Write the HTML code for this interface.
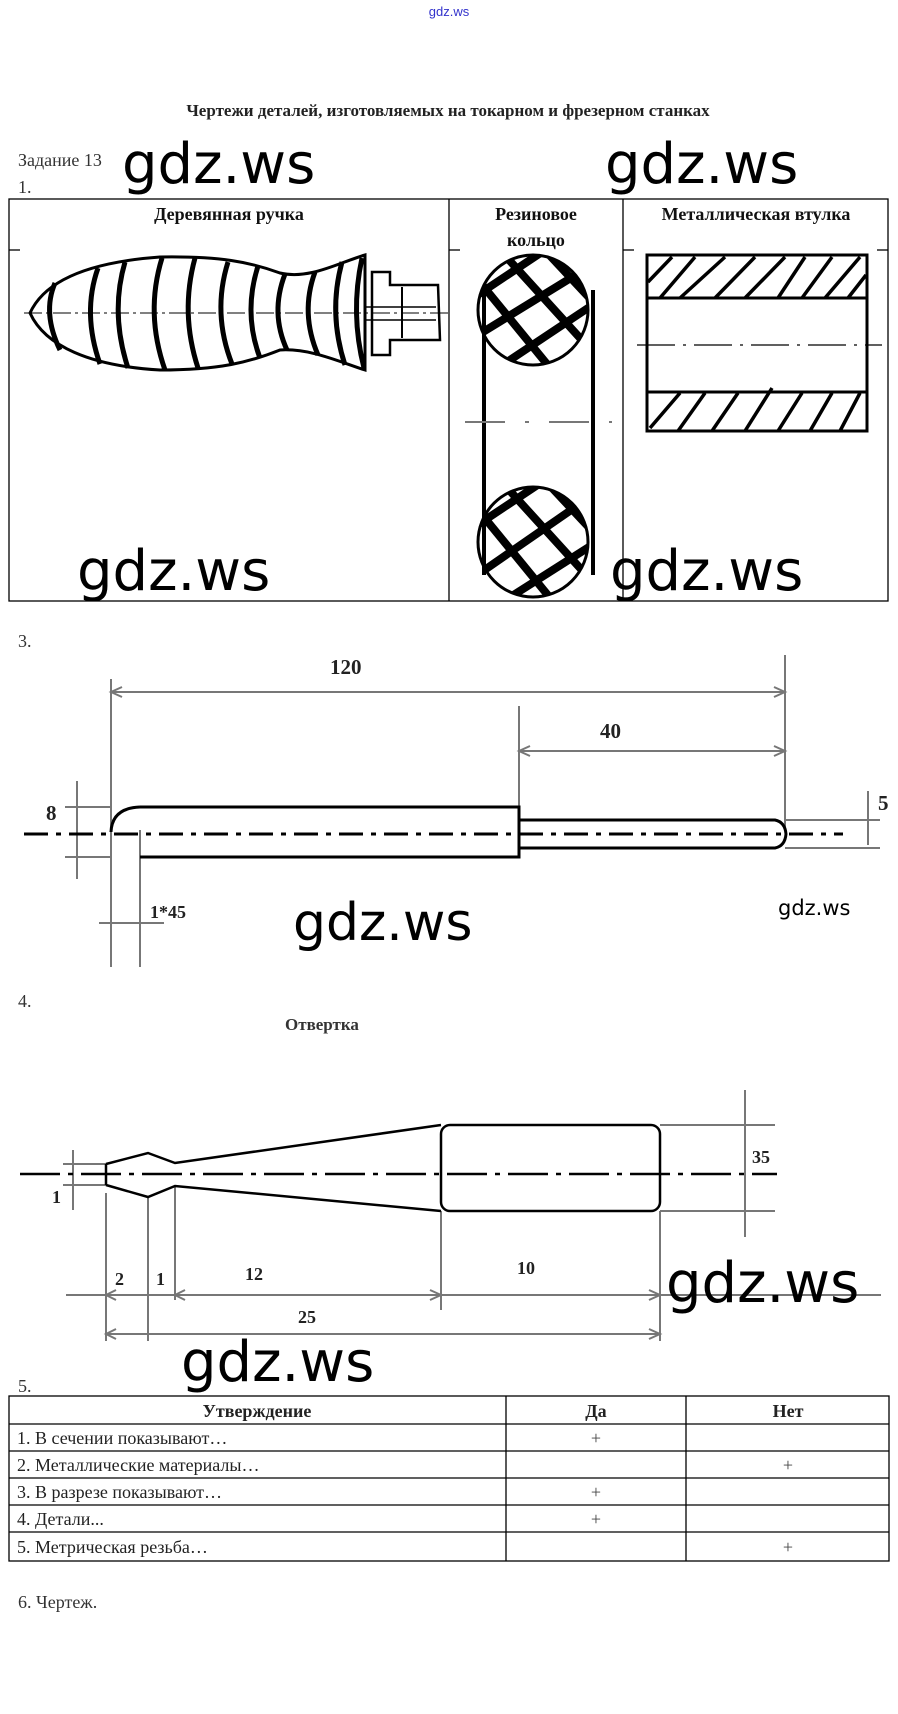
<!DOCTYPE html>
<html><head><meta charset="utf-8"><style>
body{margin:0;background:#fff;}
svg{display:block}
.s{font-family:"Liberation Serif",serif;}
.w{font-family:"DejaVu Sans","Liberation Sans",sans-serif;fill:#000;}
</style></head><body>
<svg width="898" height="1714" viewBox="0 0 898 1714" xmlns="http://www.w3.org/2000/svg">
<g class="s">
<text x="449" y="16" font-size="13" fill="#3333cc" text-anchor="middle" font-family="Liberation Sans,sans-serif">gdz.ws</text>
<text x="448" y="116" font-size="17" font-weight="bold" text-anchor="middle" fill="#222">Чертежи деталей, изготовляемых на токарном и фрезерном станках</text>
<text x="18" y="166" font-size="18" fill="#333">Задание 13</text>
<text x="18" y="193" font-size="18" fill="#333">1.</text>
</g>
<!-- table 1 -->
<g stroke="#000" stroke-width="1.3" fill="none">
<rect x="9" y="199" width="879" height="402"/>
<line x1="449" y1="199" x2="449" y2="601"/>
<line x1="623" y1="199" x2="623" y2="601"/>
<line x1="9" y1="250" x2="20" y2="250"/><line x1="449" y1="250" x2="460" y2="250"/><line x1="623" y1="250" x2="634" y2="250"/><line x1="877" y1="250" x2="888" y2="250"/>
</g>
<g class="s" font-size="18" font-weight="bold" text-anchor="middle" fill="#111">
<text x="229" y="220">Деревянная ручка</text>
<text x="536" y="220">Резиновое</text>
<text x="536" y="246">кольцо</text>
<text x="756" y="220">Металлическая втулка</text>
</g>
<!-- handle -->
<g stroke="#000" fill="none">
<path d="M30,313 C45,280 90,262 160,257 C220,256 250,262 280,273 C310,280 340,262 365,255 L365,370 C340,362 310,348 280,350 C250,362 220,370 160,370 C90,366 45,346 30,313 Z" stroke-width="3"/>
<line x1="24" y1="313" x2="452" y2="313" stroke-width="1" stroke-dasharray="18,4,3,4"/>
<g stroke-width="5">
<path d="M55,283 Q42,313 60,350"/>
<path d="M98,268 Q82,313 100,364"/>
<path d="M125,262 Q110,313 128,368"/>
<path d="M162,258 Q145,313 165,370"/>
<path d="M195,258 Q180,313 198,368"/>
<path d="M228,262 Q212,313 232,364"/>
<path d="M258,266 Q243,313 260,358"/>
<path d="M285,274 Q270,313 287,350"/>
<path d="M315,272 Q300,313 318,355"/>
<path d="M342,262 Q328,313 345,365"/>
<path d="M362,258 Q350,313 364,368"/>
</g>
<path d="M372,272 L390,272 L390,285 L438,285 L440,340 L390,340 L390,355 L372,355 Z" stroke-width="2.5"/>
<line x1="365" y1="307" x2="436" y2="307" stroke-width="1.5"/><line x1="365" y1="320" x2="436" y2="320" stroke-width="1.5"/>
<line x1="402" y1="287" x2="402" y2="338" stroke-width="2"/>
</g>
<!-- ring -->
<g stroke="#000" fill="none">
<line x1="484" y1="290" x2="484" y2="575" stroke-width="4"/>
<line x1="593" y1="290" x2="593" y2="575" stroke-width="4"/>
<line x1="465" y1="422" x2="612" y2="422" stroke="#777" stroke-width="2" stroke-dasharray="40,20,4,20"/>
<clipPath id="c1"><circle cx="533" cy="310" r="55"/></clipPath>
<clipPath id="c2"><circle cx="533" cy="542" r="55"/></clipPath>
<circle cx="533" cy="310" r="55" stroke-width="3"/>
<circle cx="533" cy="542" r="55" stroke-width="3"/>
<g clip-path="url(#c1)" stroke-width="8">
<line x1="470" y1="300" x2="560" y2="240"/><line x1="470" y1="340" x2="600" y2="260"/><line x1="480" y1="380" x2="600" y2="300"/>
<line x1="470" y1="270" x2="560" y2="380"/><line x1="500" y1="250" x2="600" y2="360"/><line x1="540" y1="245" x2="610" y2="320"/>
</g>
<g clip-path="url(#c2)" stroke-width="8">
<line x1="470" y1="530" x2="560" y2="470"/><line x1="470" y1="580" x2="600" y2="490"/><line x1="490" y1="610" x2="600" y2="540"/>
<line x1="470" y1="500" x2="560" y2="610"/><line x1="500" y1="480" x2="600" y2="590"/><line x1="540" y1="475" x2="610" y2="550"/>
</g>
</g>
<!-- bushing -->
<g stroke="#000" fill="none" stroke-width="3">
<rect x="647" y="255" width="220" height="176"/>
<line x1="647" y1="298" x2="867" y2="298"/><line x1="647" y1="392" x2="867" y2="392"/>
<g stroke-width="3.5">
<line x1="648" y1="282" x2="672" y2="257"/><line x1="660" y1="298" x2="695" y2="257"/><line x1="680" y1="298" x2="725" y2="257"/>
<line x1="715" y1="298" x2="755" y2="257"/><line x1="745" y1="298" x2="785" y2="257"/><line x1="778" y1="298" x2="805" y2="257"/>
<line x1="802" y1="298" x2="832" y2="257"/><line x1="825" y1="298" x2="860" y2="257"/><line x1="848" y1="298" x2="866" y2="275"/>
<line x1="650" y1="428" x2="680" y2="393"/><line x1="678" y1="431" x2="705" y2="393"/><line x1="712" y1="431" x2="738" y2="393"/>
<line x1="745" y1="431" x2="772" y2="388"/><line x1="778" y1="431" x2="802" y2="393"/><line x1="810" y1="431" x2="832" y2="393"/>
<line x1="840" y1="431" x2="860" y2="393"/>
</g>
<line x1="637" y1="345" x2="882" y2="345" stroke-width="1.2" stroke-dasharray="38,8,3,8"/>
</g>
<!-- watermarks -->
<g class="w" font-size="56">
<text x="122" y="183">gdz.ws</text>
<text x="605" y="183">gdz.ws</text>
<text x="77" y="590">gdz.ws</text>
<text x="610" y="590">gdz.ws</text>
</g>
<!-- section 3 -->
<text class="s" x="18" y="647" font-size="18" fill="#333">3.</text>
<g stroke="#777" stroke-width="2" fill="none">
<line x1="111" y1="679" x2="111" y2="967"/><line x1="140" y1="830" x2="140" y2="967"/>
<line x1="785" y1="655" x2="785" y2="827"/><line x1="519" y1="706" x2="519" y2="810"/>
<line x1="111" y1="692" x2="785" y2="692"/><path d="M122,687 L111,692 L122,697 M774,687 L785,692 L774,697"/>
<line x1="519" y1="751" x2="785" y2="751"/><path d="M530,746 L519,751 L530,756 M774,746 L785,751 L774,756"/>
<line x1="77" y1="781" x2="77" y2="879"/><line x1="65" y1="807" x2="110" y2="807"/><line x1="65" y1="857" x2="110" y2="857"/>
<line x1="868" y1="791" x2="868" y2="845"/><line x1="785" y1="820" x2="880" y2="820"/><line x1="785" y1="848" x2="880" y2="848"/>
<line x1="99" y1="923" x2="164" y2="923"/>
</g>
<g stroke="#000" stroke-width="3" fill="none">
<path d="M140,807 L519,807 L519,857 L140,857 M140,807 Q112,808 111,832"/>
<path d="M519,820 L775,820 Q785,822 786,834 Q785,846 775,848 L519,848"/>
</g>
<line x1="24" y1="834" x2="843" y2="834" stroke="#000" stroke-width="3" stroke-dasharray="24,8,5,8"/>
<g class="s" font-weight="bold" fill="#222">
<text x="330" y="674" font-size="21">120</text>
<text x="600" y="738" font-size="21">40</text>
<text x="46" y="820" font-size="21">8</text>
<text x="878" y="810" font-size="21">5</text>
<text x="150" y="918" font-size="18">1*45</text>
</g>
<text class="w" x="293" y="940" font-size="52">gdz.ws</text>
<text class="w" x="778" y="915" font-size="21">gdz.ws</text>
<!-- section 4 -->
<text class="s" x="18" y="1007" font-size="18" fill="#333">4.</text>
<text class="s" x="285" y="1030" font-size="17" font-weight="bold" fill="#333">Отвертка</text>
<g stroke="#777" stroke-width="2" fill="none">
<line x1="745" y1="1090" x2="745" y2="1237"/><line x1="660" y1="1125" x2="775" y2="1125"/><line x1="660" y1="1211" x2="775" y2="1211"/>
<line x1="73" y1="1150" x2="73" y2="1210"/><line x1="63" y1="1164" x2="106" y2="1164"/><line x1="63" y1="1185" x2="106" y2="1185"/>
<line x1="106" y1="1193" x2="106" y2="1341"/><line x1="148" y1="1197" x2="148" y2="1341"/><line x1="175" y1="1186" x2="175" y2="1300"/>
<line x1="441" y1="1211" x2="441" y2="1310"/><line x1="660" y1="1211" x2="660" y2="1341"/>
<line x1="66" y1="1295" x2="881" y2="1295"/><line x1="106" y1="1334" x2="660" y2="1334"/>
<path d="M116,1290 L106,1295 L116,1300 M649,1329 L660,1334 L649,1339 M116,1329 L106,1334 L116,1339 M430,1290 L441,1295 L430,1300 M185,1290 L175,1295 L185,1300 M649,1290 L660,1295 L649,1300"/>
</g>
<g stroke="#000" stroke-width="2.5" fill="none">
<path d="M106,1164 L148,1153 L175,1163 L441,1125 M106,1185 L148,1197 L175,1186 L441,1211 M106,1164 L106,1185"/>
<rect x="441" y="1125" width="219" height="86" rx="9"/>
</g>
<line x1="20" y1="1174" x2="777" y2="1174" stroke="#000" stroke-width="2.5" stroke-dasharray="40,8,5,8"/>
<g class="s" font-weight="bold" fill="#222" font-size="18">
<text x="752" y="1163">35</text>
<text x="52" y="1203">1</text>
<text x="115" y="1285">2</text>
<text x="156" y="1285">1</text>
<text x="245" y="1280">12</text>
<text x="517" y="1274">10</text>
<text x="298" y="1323">25</text>
</g>
<text class="w" x="666" y="1302" font-size="56">gdz.ws</text>
<text class="w" x="181" y="1381" font-size="56">gdz.ws</text>
<!-- table 5 -->
<text class="s" x="18" y="1392" font-size="18" fill="#333">5.</text>
<g stroke="#000" stroke-width="1.3" fill="none">
<rect x="9" y="1396" width="880" height="165"/>
<line x1="506" y1="1396" x2="506" y2="1561"/><line x1="686" y1="1396" x2="686" y2="1561"/>
<line x1="9" y1="1424" x2="889" y2="1424"/><line x1="9" y1="1451" x2="889" y2="1451"/><line x1="9" y1="1478" x2="889" y2="1478"/><line x1="9" y1="1505" x2="889" y2="1505"/><line x1="9" y1="1532" x2="889" y2="1532"/>
</g>
<g class="s" font-size="18" fill="#222">
<text x="257" y="1417" font-weight="bold" text-anchor="middle">Утверждение</text>
<text x="596" y="1417" font-weight="bold" text-anchor="middle">Да</text>
<text x="788" y="1417" font-weight="bold" text-anchor="middle">Нет</text>
<text x="17" y="1444">1. В сечении показывают…</text>
<text x="17" y="1471">2. Металлические материалы…</text>
<text x="17" y="1498">3. В разрезе показывают…</text>
<text x="17" y="1525">4. Детали...</text>
<text x="17" y="1553">5. Метрическая резьба…</text>
<g text-anchor="middle" fill="#444"><text x="596" y="1444">+</text><text x="788" y="1471">+</text><text x="596" y="1498">+</text><text x="596" y="1525">+</text><text x="788" y="1553">+</text></g>
<text x="18" y="1608" fill="#333">6. Чертеж.</text>
</g>
</svg>
</body></html>
